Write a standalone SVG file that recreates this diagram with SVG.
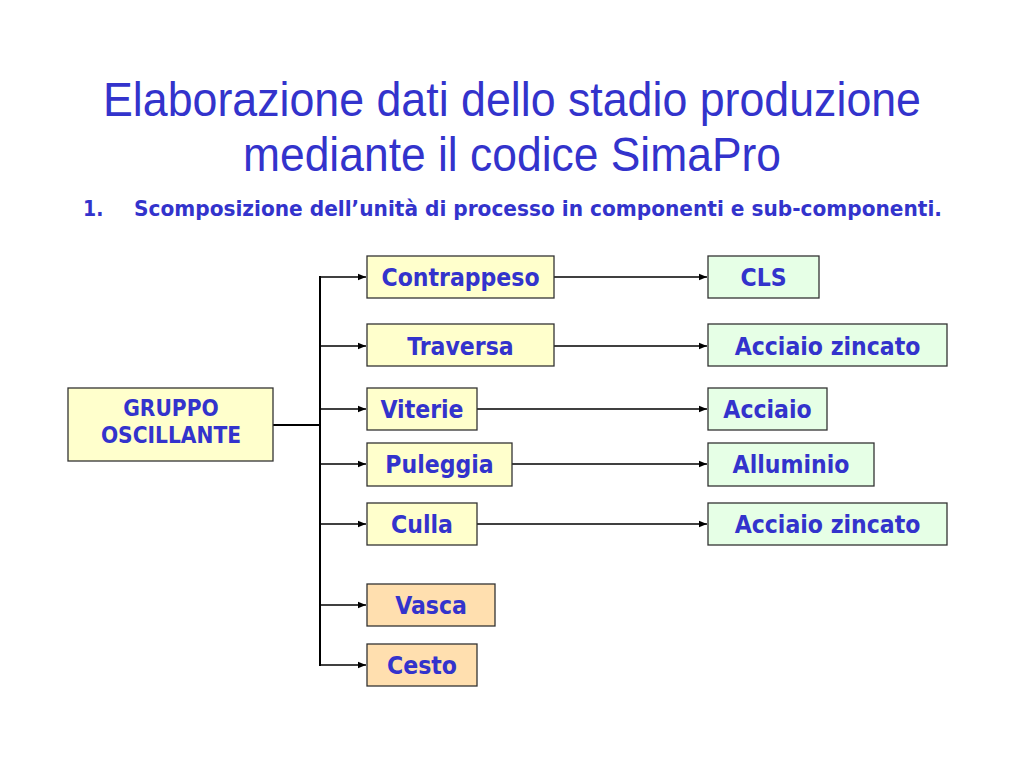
<svg xmlns="http://www.w3.org/2000/svg" width="1024" height="768" viewBox="0 0 1024 768">
<style>
.title{font-family:"Liberation Sans Narrow","Liberation Sans",Arial,sans-serif;font-size:48px;fill:#3333CC;text-anchor:middle}
.sub{font-family:"DejaVu Sans Condensed","DejaVu Sans",sans-serif;font-weight:bold;font-size:21px;fill:#3333CC}
.lbl{font-family:"DejaVu Sans Condensed","DejaVu Sans",sans-serif;font-weight:bold;font-size:24.5px;fill:#3333CC;text-anchor:middle}
.lbl2{font-family:"DejaVu Sans Condensed","DejaVu Sans",sans-serif;font-weight:bold;font-size:22.5px;fill:#3333CC;text-anchor:middle}
.y rect{fill:#FFFFCC;stroke:#333;stroke-width:1.3}
.g rect{fill:#E6FFE6;stroke:#333;stroke-width:1.3}
.o rect{fill:#FFDFAF;stroke:#333;stroke-width:1.3}
.c line{stroke:#000;stroke-width:1.4;fill:none}
.c .t{stroke-width:2}
.c .a{marker-end:url(#ar)}
</style>
<defs>
<marker id="ar" viewBox="0 0 10 10" refX="10" refY="5" markerWidth="9" markerHeight="8" markerUnits="userSpaceOnUse" orient="auto">
<path d="M0,1 L10,5 L0,9 z" fill="#000"/>
</marker>
</defs>
<rect width="1024" height="768" fill="#fff"/>
<text class="title" x="512" y="116" textLength="818" lengthAdjust="spacingAndGlyphs">Elaborazione dati dello stadio produzione</text>
<text class="title" x="512" y="171" textLength="538" lengthAdjust="spacingAndGlyphs">mediante il codice SimaPro</text>
<text class="sub" x="83" y="216">1.</text>
<text class="sub" x="134" y="216" textLength="808" lengthAdjust="spacingAndGlyphs">Scomposizione dell’unità di processo in componenti e sub-componenti.</text>

<g class="c" id="connectors">
<line class="t" x1="273" y1="425" x2="320" y2="425"/>
<line class="t" x1="320" y1="276" x2="320" y2="666"/>
<line class="a" x1="320" y1="277" x2="366" y2="277"/>
<line class="a" x1="320" y1="346" x2="366" y2="346"/>
<line class="a" x1="320" y1="409" x2="366" y2="409"/>
<line class="a" x1="320" y1="464" x2="366" y2="464"/>
<line class="a" x1="320" y1="524" x2="366" y2="524"/>
<line class="a" x1="320" y1="605" x2="366" y2="605"/>
<line class="a" x1="320" y1="665" x2="366" y2="665"/>
<line class="a" x1="554" y1="277" x2="707" y2="277"/>
<line class="a" x1="554" y1="346" x2="707" y2="346"/>
<line class="a" x1="477" y1="409" x2="707" y2="409"/>
<line class="a" x1="512" y1="464" x2="707" y2="464"/>
<line class="a" x1="477" y1="524" x2="707" y2="524"/>
</g>

<g id="gruppo" class="y"><rect x="68" y="388" width="205" height="73"/><text class="lbl2" x="171" y="416">GRUPPO</text><text class="lbl2" x="171" y="443">OSCILLANTE</text></g>
<g id="contrappeso" class="y"><rect x="367" y="256" width="187" height="42"/><text class="lbl" x="460.5" y="286">Contrappeso</text></g>
<g id="traversa" class="y"><rect x="367" y="324" width="187" height="42"/><text class="lbl" x="460.5" y="355">Traversa</text></g>
<g id="viterie" class="y"><rect x="367" y="388" width="110" height="42"/><text class="lbl" x="422" y="418">Viterie</text></g>
<g id="puleggia" class="y"><rect x="367" y="443" width="145" height="43"/><text class="lbl" x="439.5" y="473">Puleggia</text></g>
<g id="culla" class="y"><rect x="367" y="503" width="110" height="42"/><text class="lbl" x="422" y="533">Culla</text></g>
<g id="vasca" class="o"><rect x="367" y="584" width="128" height="42"/><text class="lbl" x="431" y="614">Vasca</text></g>
<g id="cesto" class="o"><rect x="367" y="644" width="110" height="42"/><text class="lbl" x="422" y="674">Cesto</text></g>
<g id="cls" class="g"><rect x="708" y="256" width="111" height="42"/><text class="lbl" x="763.5" y="286">CLS</text></g>
<g id="acciaio-zincato-1" class="g"><rect x="708" y="324" width="239" height="42"/><text class="lbl" x="827.5" y="355">Acciaio zincato</text></g>
<g id="acciaio" class="g"><rect x="708" y="388" width="119" height="42"/><text class="lbl" x="767.5" y="418">Acciaio</text></g>
<g id="alluminio" class="g"><rect x="708" y="443" width="166" height="43"/><text class="lbl" x="791" y="473">Alluminio</text></g>
<g id="acciaio-zincato-2" class="g"><rect x="708" y="503" width="239" height="42"/><text class="lbl" x="827.5" y="533">Acciaio zincato</text></g>
</svg>
